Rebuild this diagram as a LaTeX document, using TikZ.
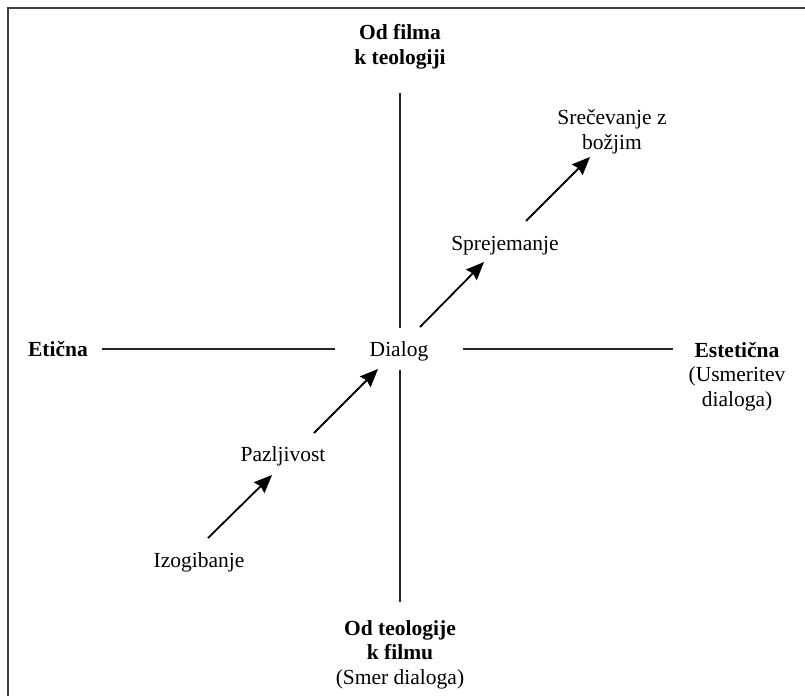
\documentclass[tikz,border=0pt]{standalone}
\usepackage{fontspec}
\setmainfont{Liberation Serif}
\usetikzlibrary{arrows.meta}
\tikzset{
  lbl/.style={inner sep=0pt, align=center, font=\fontsize{21.5}{24.5}\selectfont},
  blbl/.style={lbl, font=\fontsize{21.5}{24.5}\selectfont\bfseries},
  axis/.style={line width=1.8pt, black!85},
  arr/.style={line width=1.8pt, -{Stealth[length=18pt,width=15pt,inset=2pt]}},
  frame/.style={line width=1.6pt, black!75}
}
\begin{document}
\begin{tikzpicture}[x=1pt,y=-1pt]
\useasboundingbox (0,0) rectangle (805,696);
\fill[white] (0,0) rectangle (805,696);
% frame (cropped: top and left edges only)
\coordinate (f1) at (805,8);
\coordinate (f2) at (8,8);
\coordinate (f3) at (8,696);
\draw[frame] (f1) -- (f2) -- (f3);

% labels (base = baseline of the last line)
\node[blbl, anchor=base] (top) at (400,64) {Od filma\\k teologiji};
\node[blbl, anchor=base] (left) at (58,356) {Etična};
\node[lbl, anchor=base] (dialog) at (399,356) {Dialog};
\node[lbl, anchor=base] (right) at (737,406) {\textbf{Estetična}\\(Usmeritev\\dialoga)};
\node[lbl, anchor=base] (bottom) at (400,684) {\textbf{Od teologije}\\\textbf{k filmu}\\(Smer dialoga)};
\node[lbl, anchor=base] (izo) at (199,567) {Izogibanje};
\node[lbl, anchor=base] (paz) at (283,461) {Pazljivost};
\node[lbl, anchor=base] (spr) at (505,250) {Sprejemanje};
\node[lbl, anchor=base] (sre) at (612,149) {Srečevanje z\\božjim};

% axis endpoints
\coordinate (vt1) at (400,93);  \coordinate (vt2) at (400,328);
\coordinate (vb1) at (400,370); \coordinate (vb2) at (400,602);
\coordinate (hl1) at (102,349); \coordinate (hl2) at (335,349);
\coordinate (hr1) at (463,349); \coordinate (hr2) at (673,349);
\draw[axis] (vt1) -- (vt2);
\draw[axis] (vb1) -- (vb2);
\draw[axis] (hl1) -- (hl2);
\draw[axis] (hr1) -- (hr2);

% arrow endpoints
\coordinate (a1s) at (208,538); \coordinate (a1e) at (272,475);
\coordinate (a2s) at (314,433); \coordinate (a2e) at (378,369);
\coordinate (a3s) at (420,327); \coordinate (a3e) at (484,262);
\coordinate (a4s) at (526,221); \coordinate (a4e) at (590,157);
\draw[arr] (a1s) -- (a1e);
\draw[arr] (a2s) -- (a2e);
\draw[arr] (a3s) -- (a3e);
\draw[arr] (a4s) -- (a4e);
\end{tikzpicture}
\end{document}
